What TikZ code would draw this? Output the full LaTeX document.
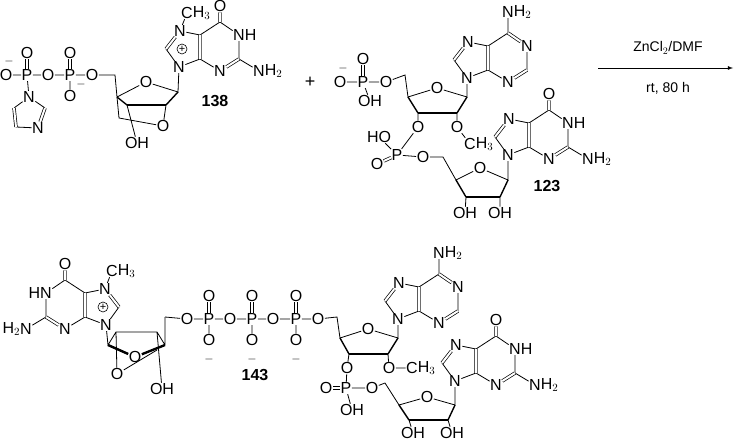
\documentclass[tikz,border=0pt]{standalone}
\usepackage{fontspec}
\setmainfont{Liberation Sans}
\tikzset{
 atom/.style={inner sep=0.4pt,font=\fontsize{16}{16}\selectfont},
 hl/.style={inner sep=0pt,label distance=-0.8pt,font=\fontsize{16}{16}\selectfont},
 bond/.style={line width=0.8pt},
 dbl/.style={double,double distance=2pt,line width=0.7pt},
 hb/.style={line width=2.4pt},
 mb/.style={line width=1.4pt},
 chg/.style={inner sep=0pt,font=\fontsize{13}{13}\selectfont},
 plusc/.style={circle,draw,line width=0.6pt,inner sep=0pt,minimum size=10pt,font=\fontsize{11}{11}\selectfont},
 cmpd/.style={font=\bfseries\fontsize{16}{16}\selectfont},
}
\newcommand\Gua[6]{%
\begin{scope}[shift={(#2,#3)}]
\node[atom](#1N9) at (0,0){N};
\coordinate(#1C4) at ({#4*21},-8);
\coordinate(#1C5) at ({#4*21},-32);
\node[atom](#1N7) at ({#4*1},-36){N};
\coordinate(#1C8) at ({#4*-13},-18);
\coordinate(#1C6) at ({#4*41},-45);
\node[atom](#1O6) at ({#4*41},-61){O};
\node[atom,label={[hl]#5:H}](#1N1) at ({#4*60},-32){N};
\coordinate(#1C2) at ({#4*60},-8);
\node[atom](#1N3) at ({#4*41},4){N};
\node[atom,label={[hl]#5:H$_2$}](#1N2) at ({#4*80},4){N};
\draw[bond] (#1N9)--(#1C4) (#1C5)--(#1N7) (#1C8)--(#1N9) (#1C5)--(#1C6)--(#1N1)--(#1C2)--(#1N2) (#1N3)--(#1C4);
\draw[dbl] (#1C4)--(#1C5) (#1N7)--(#1C8) (#1C6)--(#1O6) (#1C2)--(#1N3);
\ifnum#6=1
\node[atom,label={[hl]0:H$_3$}](#1Me) at ({#4*1+7},-54){C};
\draw[bond] (#1N7)--(#1Me);
\node[plusc](#1pl) at ({#4*3},-18){+};
\fi
\end{scope}}
\newcommand\Ade[3]{%
\begin{scope}[shift={(#2,#3)}]
\node[atom](#1N9) at (0,0){N};
\coordinate(#1C4) at (21,-8);
\coordinate(#1C5) at (21,-32);
\node[atom](#1N7) at (1,-36){N};
\coordinate(#1C8) at (-13,-18);
\coordinate(#1C6) at (41,-45);
\node[atom,label={[hl]0:H$_2$}](#1N6) at (41,-66){N};
\node[atom](#1N1) at (60,-32){N};
\coordinate(#1C2) at (60,-8);
\node[atom](#1N3) at (41,4){N};
\draw[bond] (#1N9)--(#1C4) (#1C5)--(#1N7) (#1C8)--(#1N9) (#1C5)--(#1C6)--(#1N6) (#1N1)--(#1C2) (#1N3)--(#1C4);
\draw[dbl] (#1C4)--(#1C5) (#1N7)--(#1C8) (#1C6)--(#1N1) (#1C2)--(#1N3);
\end{scope}}
\begin{document}
\begin{tikzpicture}[x=1pt,y=-1pt]
\useasboundingbox (0,0) rectangle (735,441);
% ===== 138 =====
\Gua{g}{179}{67}{1}{0}{1}
\node[atom](aOm) at (6,75){O};
\node[chg](aM1) at (9,62){$-$};
\node[atom](aP1) at (27,75){P};
\node[atom](aO1u) at (27,53){O};
\node[atom](aNim) at (29,97){N};
\coordinate(aC5i) at (14,108);
\coordinate(aC4i) at (16,127);
\node[atom](aN3i) at (38,128){N};
\coordinate(aC2i) at (45,108);
\draw[bond] (aNim)--(aC5i) (aC4i)--(aN3i) (aC2i)--(aNim);
\draw[dbl] (aC5i)--(aC4i) (aN3i)--(aC2i);
\node[atom](aOb) at (48,75){O};
\node[atom](aP2) at (70,75){P};
\node[atom](aO2u) at (70,53){O};
\node[atom](aO2d) at (70,96){O};
\node[chg](aM2) at (81,85){$-$};
\node[atom](aO5) at (92,75){O};
\coordinate(aC5) at (115,75);
\coordinate(aC4) at (117,97);
\node[atom](aO4) at (146,82){O};
\coordinate(aC1) at (178,92);
\coordinate(aC2) at (166,105);
\coordinate(aC3) at (127,105);
\coordinate(aCB) at (119,118);
\node[atom](aOB) at (163,126){O};
\node[atom](aOH) at (137,143){OH};
\draw[bond] (aOm)--(aP1)--(aOb)--(aP2)--(aO5)--(aC5)--(aC4)--(aO4)--(aC1)--(gN9) (aP1)--(aNim) (aP2)--(aO2d)
 (aC4)--(aCB)--(aOB)--(aC2) (aC3)--(aOH);
\draw[dbl] (aP1)--(aO1u) (aP2)--(aO2u);
\draw[mb] (aC4)--(aC3) (aC2)--(aC1);
\draw[hb] (aC3)--(aC2);
\node[cmpd](l138) at (215,101){138};
% plus
\node[font=\fontsize{18}{18}\selectfont](plus) at (310,82){+};
% ===== 123 =====
\Ade{a}{467}{78}
\node[atom](bOm) at (340,82){O};
\node[chg](bM) at (343,69){$-$};
\node[atom](bP) at (363,82){P};
\node[atom](bOu) at (363,59){O};
\node[atom](bOH) at (370,101){OH};
\node[atom](bO5) at (386,82){O};
\coordinate(bC5) at (405,75);
\coordinate(bC4) at (408,97);
\node[atom](bO4) at (437,88){O};
\coordinate(bC1) at (467,97);
\coordinate(bC2) at (457,113);
\coordinate(bC3) at (418,113);
\node[atom](bO3) at (418,127){O};
\node[atom](bO2) at (457,127){O};
\node[atom,label={[hl]0:H$_3$}](bMe) at (470,144){C};
\draw[bond] (bOm)--(bP)--(bO5)--(bC5)--(bC4)--(bO4)--(bC1)--(aN9) (bP)--(bOH) (bC3)--(bO3) (bC2)--(bO2)--(bMe);
\draw[dbl] (bP)--(bOu);
\draw[mb] (bC4)--(bC3) (bC2)--(bC1);
\draw[hb] (bC3)--(bC2);
\Gua{h}{508}{155}{1}{0}{0}
\node[atom](bPP) at (397,155){P};
\node[atom](bHO) at (379,137){HO};
\node[atom](bOd) at (377,164){O};
\node[atom](bO5b) at (423,157){O};
\coordinate(bC5b) at (443,157);
\coordinate(bC4b) at (456,180);
\node[atom](bO4b) at (480,168){O};
\coordinate(bC1b) at (508,180);
\coordinate(bC2b) at (500,197);
\coordinate(bC3b) at (466,197);
\node[atom](bOHa) at (465,213){OH};
\node[atom](bOHb) at (500,213){OH};
\draw[bond] (bO3)--(bPP)--(bO5b)--(bC5b)--(bC4b)--(bO4b)--(bC1b)--(hN9) (bPP)--(bHO) (bC3b)--(bOHa) (bC2b)--(bOHb);
\draw[dbl] (bPP)--(bOd);
\draw[mb] (bC4b)--(bC3b) (bC2b)--(bC1b);
\draw[hb] (bC3b)--(bC2b);
\node[cmpd](l123) at (547,186){123};
% ===== arrow =====
\coordinate(ar1) at (598,68);
\coordinate(ar2) at (733,68);
\draw[line width=0.8pt,-latex] (ar1)--(ar2);
\node[font=\fontsize{14}{14}\selectfont](cond1) at (668,48){ZnCl$_2$/DMF};
\node[font=\fontsize{14}{14}\selectfont](cond2) at (668,88){rt, 80 h};
% ===== 143 =====
\Gua{k}{106}{325}{-1}{180}{1}
\coordinate(cCa) at (108,345);
\coordinate(cCb) at (116,332);
\coordinate(cCc) at (157,332);
\coordinate(cCd) at (165,345);
\coordinate(cC5) at (165,317);
\node[atom](cOin) at (135,357){O};
\node[atom](cObot) at (117,374){O};
\node[atom](cOH) at (162,389){OH};
\coordinate(cCe) at (157,350);
\draw[bond] (kN9)--(cCa)--(cCb)--(cCc)--(cCd) (cC5)--(cCd) (cCb)--(cObot)--(cCe) (cCc)--(cOH);
\draw[hb] (cCa)--(cOin) (cCd)--(cOin);
\node[atom](cO1) at (187,319){O};
\node[atom](cP1) at (209,319){P};
\node[atom](cP1u) at (209,296){O};
\node[atom](cP1d) at (209,340){O};
\node[chg](cM1) at (209,359){$-$};
\node[atom](cO2) at (230,319){O};
\node[atom](cP2) at (252,319){P};
\node[atom](cP2u) at (252,296){O};
\node[atom](cP2d) at (252,340){O};
\node[chg](cM2) at (252,359){$-$};
\node[atom](cO3) at (273,319){O};
\node[atom](cP3) at (296,319){P};
\node[atom](cP3u) at (296,296){O};
\node[atom](cP3d) at (296,340){O};
\node[chg](cM3) at (296,359){$-$};
\node[atom](cO4) at (318,319){O};
\draw[bond] (cC5)--(cO1)--(cP1)--(cO2)--(cP2)--(cO3)--(cP3)--(cO4) (cP1)--(cP1d) (cP2)--(cP2d) (cP3)--(cP3d);
\draw[dbl] (cP1)--(cP1u) (cP2)--(cP2u) (cP3)--(cP3u);
\Ade{d}{398}{319}
\coordinate(dC5) at (337,317);
\coordinate(dC4) at (340,338);
\node[atom](dO4) at (368,329){O};
\coordinate(dC1) at (398,338);
\coordinate(dC2) at (388,354);
\coordinate(dC3) at (349,354);
\node[atom](dO3) at (347,368){O};
\node[atom](dO2) at (389,368){O};
\node[atom,label={[hl]0:H$_3$}](dMe) at (412,368){C};
\draw[bond] (cO4)--(dC5)--(dC4)--(dO4)--(dC1)--(dN9) (dC3)--(dO3) (dC2)--(dO2)--(dMe);
\draw[mb] (dC4)--(dC3) (dC2)--(dC1);
\draw[hb] (dC3)--(dC2);
\node[atom](dP) at (346,388){P};
\node[atom](dOd) at (326,388){O};
\node[atom](dOH) at (352,410){OH};
\node[atom](dO5b) at (372,388){O};
\coordinate(dC5b) at (385,383);
\coordinate(dC4b) at (399,405);
\node[atom](dO4b) at (427,397){O};
\coordinate(dC1b) at (455,405);
\coordinate(dC2b) at (448,420);
\coordinate(dC3b) at (409,420);
\node[atom](dOHa) at (413,433){OH};
\node[atom](dOHb) at (452,433){OH};
\Gua{m}{455}{381}{1}{0}{0}
\draw[bond] (dO3)--(dP)--(dO5b)--(dC5b)--(dC4b)--(dO4b)--(dC1b)--(mN9) (dP)--(dOH) (dC3b)--(dOHa) (dC2b)--(dOHb);
\draw[dbl] (dP)--(dOd);
\draw[mb] (dC4b)--(dC3b) (dC2b)--(dC1b);
\draw[hb] (dC3b)--(dC2b);
\node[cmpd](l143) at (255,375){143};
\end{tikzpicture}
\end{document}
